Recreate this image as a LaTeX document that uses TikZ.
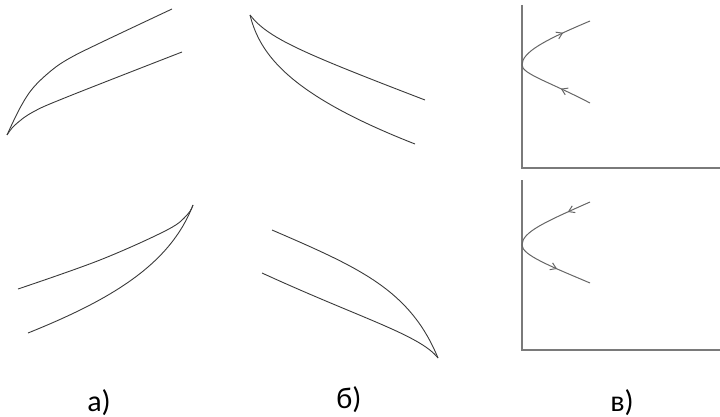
\documentclass[tikz,border=0pt]{standalone}
\usepackage{fontspec}
\setmainfont{Carlito}
\usepackage{tikz}
\usetikzlibrary{arrows.meta,decorations.markings}
\definecolor{curvc}{HTML}{3A3A3A}
\definecolor{axc}{HTML}{7A7A7A}
\definecolor{flowc}{HTML}{666666}
\tikzset{
  cv/.style={curvc,line width=0.9pt,line join=round},
  ax/.style={axc,line width=1.1pt},
  fl/.style={flowc,line width=1pt},
  mk/.style 2 args={postaction={decorate},decoration={markings,
    mark=at position #1 with {\arrow{Straight Barb[length=2mm,width=2.6mm]}},
    mark=at position #2 with {\arrow{Straight Barb[length=2mm,width=2.6mm]}}}},
  lbl/.style={font=\fontsize{30}{36}\selectfont,anchor=base,inner sep=0pt}
}
\begin{document}
\begin{tikzpicture}[x=1pt,y=-1pt]
\useasboundingbox (0,0) rectangle (720,417);
\draw[cv] plot[smooth,tension=0.6] coordinates {(7,135) (20,108) (33,88) (52,70) (70,58) (100,43) (172,9)};
\draw[cv] plot[smooth,tension=0.6] coordinates {(7,135) (15,125) (33,112) (67,97) (182,52)};
\draw[cv] plot[smooth,tension=0.6] coordinates {(18,289) (100,260) (167,230) (187,215) (193,205)};
\draw[cv] (28,333) .. controls (110,300) and (170,265) .. (193,205);
\draw[cv] (250,15) .. controls (268,38) and (300,52) .. (425,100);
\draw[cv] (250,15) .. controls (260,55) and (290,95) .. (415,144);
\draw[cv] (272,230) .. controls (360,268) and (410,290) .. (438,358);
\draw[cv] (262,273) .. controls (360,318) and (420,335) .. (438,358);
\draw[ax] (522,5) |- (720,168);
\draw[ax] (522,180) |- (720,350);
\draw[fl,mk={0.2}{0.82}] (590,103) .. controls (550,82) and (522,74) .. (522,65)
  .. controls (522,52) and (545,40) .. (590,21);
\draw[fl,mk={0.15}{0.78}] (590,202) .. controls (545,222) and (522,232) .. (522,245)
  .. controls (522,255) and (550,266) .. (590,283);
\node[lbl] (la) at (99,411) {а)};
\node[lbl] (lb) at (349,408) {б)};
\node[lbl] (lv) at (622,411) {в)};
\end{tikzpicture}
\end{document}
